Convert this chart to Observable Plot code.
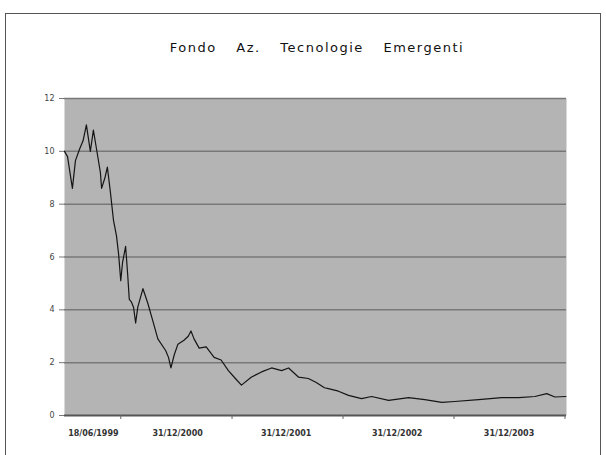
<!DOCTYPE html>
<html>
<head>
<meta charset="utf-8">
<script src="https://cdn.jsdelivr.net/npm/d3@7"></script>
<script src="https://cdn.jsdelivr.net/npm/@observablehq/plot@0.6"></script>
<style>
  html, body { margin: 0; padding: 0; background: #fff; width: 606px; height: 455px; overflow: hidden; }
  #frame { position: absolute; left: 5px; top: 13px; width: 596px; height: 470px; border: 1px solid #555; box-sizing: border-box; }
  #title { position: absolute; left: 14px; top: 40px; width: 606px; text-align: center; font-family: "DejaVu Sans", sans-serif; font-size: 13px; letter-spacing: 1.5px; word-spacing: 14px; color: #111; }
  #chart { position: absolute; left: 0; top: 80px; }
</style>
</head>
<body>
<div id="frame"></div>
<div id="title">Fondo Az. Tecnologie Emergenti</div>
<div id="chart"></div>
<script>
const dates = [
  "1999-06-30","1999-07-10","1999-07-26","1999-08-05","1999-08-19","1999-08-30","1999-09-10","1999-09-23",
  "1999-10-03","1999-10-16","1999-10-26","1999-10-30","1999-11-10","1999-11-18","1999-11-28","1999-12-08",
  "1999-12-18","1999-12-25","2000-01-01","2000-01-07","2000-01-17","2000-01-24","2000-01-29","2000-02-05",
  "2000-02-12","2000-02-19","2000-02-26","2000-03-14","2000-03-30","2000-04-15","2000-05-02","2000-05-28",
  "2000-06-06","2000-06-14","2000-06-25","2000-07-07","2000-07-27","2000-08-10","2000-08-19","2000-08-29",
  "2000-09-15","2000-10-08","2000-11-03","2000-11-26","2000-12-20","2001-01-12","2001-02-01","2001-03-05",
  "2001-04-08","2001-05-11","2001-06-13","2001-07-06","2001-08-08","2001-09-09","2001-10-05","2001-11-01",
  "2001-11-14","2001-12-17","2002-01-19","2002-03-03","2002-04-05","2002-05-31","2002-08-05","2002-09-27",
  "2002-11-22","2003-01-03","2003-03-23","2003-06-07","2003-08-02","2003-09-24","2003-11-02","2003-11-29",
  "2004-01-04"
];
const values = [
  10.0, 9.8, 8.6, 9.65, 10.1, 10.4, 11.0, 10.0,
  10.8, 9.9, 9.2, 8.6, 9.0, 9.4, 8.45, 7.4,
  6.8, 6.1, 5.1, 5.8, 6.4, 5.3, 4.4, 4.3,
  4.1, 3.5, 4.1, 4.8, 4.25, 3.6, 2.9, 2.45,
  2.2, 1.8, 2.3, 2.7, 2.85, 3.0, 3.2, 2.9,
  2.55, 2.6, 2.2, 2.1, 1.7, 1.4, 1.15, 1.45,
  1.65, 1.8, 1.7, 1.8, 1.45, 1.4, 1.25, 1.05,
  1.02, 0.92, 0.76, 0.64, 0.72, 0.57, 0.68, 0.6,
  0.5, 0.53, 0.6, 0.68, 0.68, 0.72, 0.83, 0.7,
  0.72
];
const yTicks = [0, 2, 4, 6, 8, 10, 12];
const yearTicks = ["2000-01-01", "2001-01-01", "2002-01-01", "2003-01-01", "2004-01-01"];
const xLabels = ["18/06/1999", "31/12/2000", "31/12/2001", "31/12/2002", "31/12/2003"];
const xLabelDates = ["1999-10-03", "2000-07-06", "2001-06-28", "2002-06-28", "2003-07-01"];

const data = dates.map((d, i) => ({date: new Date(d), value: values[i]}));
const labels = xLabels.map((t, i) => ({date: new Date(xLabelDates[i]), text: t}));

const chart = Plot.plot({
  width: 606,
  height: 375,
  marginLeft: 64,
  marginRight: 40,
  marginTop: 18,
  marginBottom: 40,
  style: {background: "transparent", fontFamily: "DejaVu Sans, sans-serif", color: "#333"},
  x: {type: "utc", domain: [new Date("1999-06-30"), new Date("2004-01-06")], axis: null},
  y: {domain: [0, 12], axis: null},
  marks: [
    Plot.frame({fill: "#b4b4b4", stroke: null}),
    Plot.ruleY(yTicks.filter(v => v > 0), {stroke: "#787878", strokeWidth: 1.5}),
    Plot.ruleY([0], {stroke: "#555", strokeWidth: 2}),
    Plot.axisY(yTicks, {tickSize: 5, tickPadding: 5, fontSize: 8, stroke: "#777", fill: "#444", label: null}),
    Plot.axisX(yearTicks.map(d => new Date(d)), {tickSize: 4, tickFormat: () => "", stroke: "#666", label: null}),
    Plot.text(labels, {x: "date", text: "text", frameAnchor: "bottom", dy: 20, fontSize: 8, fontWeight: "bold", fill: "#333"}),
    Plot.line(data, {x: "date", y: "value", stroke: "#151515", strokeWidth: 1.2})
  ]
});
document.getElementById("chart").appendChild(chart);
</script>
</body>
</html>
